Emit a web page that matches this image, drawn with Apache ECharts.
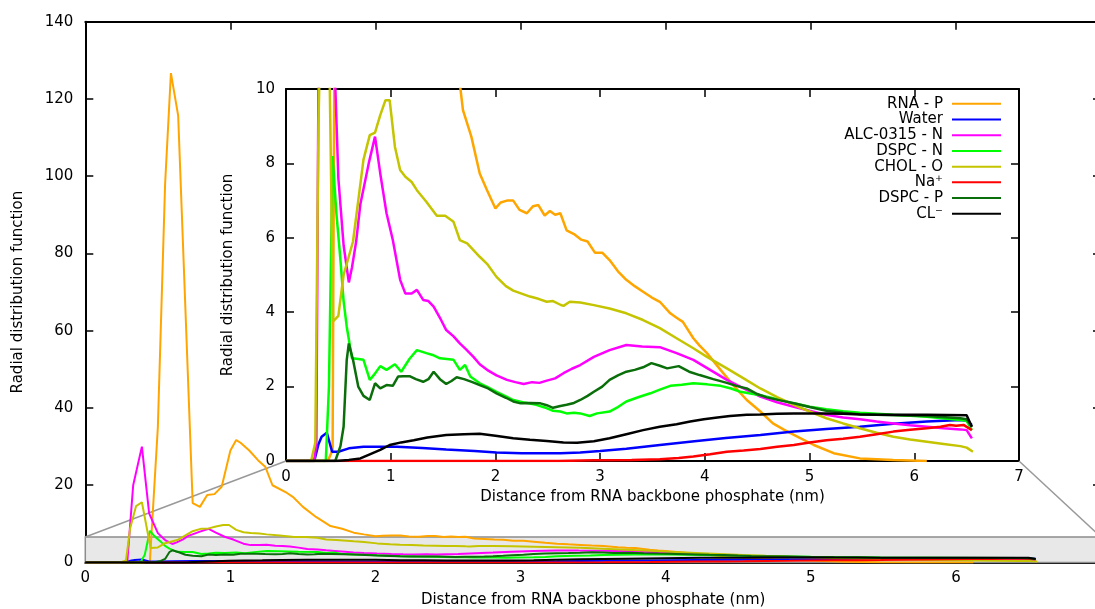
<!DOCTYPE html>
<html>
<head>
<meta charset="utf-8">
<script src="https://cdn.jsdelivr.net/npm/echarts@6/dist/echarts.min.js"></script>
<style>
  html, body { margin: 0; padding: 0; background: #fff; }
  #chart { width: 1095px; height: 609px; }
</style>
</head>
<body>
<div id="chart"></div>
<script>
// Radial distribution functions around the RNA backbone phosphate, [distance (nm), g(r)]
const seriesNames = ['RNA - P', 'Water', 'ALC-0315 - N', 'DSPC - N', 'CHOL - O', 'Na\u207A', 'DSPC - P', 'CL\u207B'];
const seriesColors = ['#ffa500', '#0000ff', '#ff00ff', '#00ff00', '#c4c400', '#ff0000', '#0a6e0a', '#000000'];

const rnaP = [[0,0],[0.40,0],[0.445,0.3],[0.50,35],[0.55,98],[0.59,126.7],[0.64,115.7],[0.74,15.4],[0.79,14.4],[0.84,17.5],[0.89,17.7],[0.94,19.6],[1.0,29],[1.04,31.7],[1.07,31],[1.13,29],[1.19,26.5],[1.24,24.8],[1.29,20],[1.39,18],[1.43,17],[1.5,14.4],[1.59,11.8],[1.69,9.43],[1.77,8.72],[1.85,7.73],[1.92,7.28],[2.0,6.79],[2.05,6.95],[2.11,7.0],[2.17,7.0],[2.23,6.75],[2.3,6.66],[2.36,6.85],[2.41,6.88],[2.47,6.6],[2.52,6.72],[2.57,6.62],[2.62,6.66],[2.68,6.2],[2.75,6.1],[2.82,5.95],[2.88,5.9],[2.95,5.6],[3.02,5.6],[3.09,5.4],[3.17,5.1],[3.25,4.87],[3.33,4.7],[3.41,4.55],[3.49,4.4],[3.57,4.28],[3.67,3.97],[3.73,3.85],[3.79,3.74],[3.89,3.3],[3.95,3.1],[4.02,2.9],[4.15,2.45],[4.27,2.04],[4.4,1.64],[4.53,1.33],[4.65,1.01],[4.75,0.85],[4.85,0.7],[5.04,0.43],[5.23,0.21],[5.48,0.07],[5.8,0.03],[6.12,0]];

const water = [[0,0],[0.27,0],[0.31,0.45],[0.34,0.65],[0.39,0.76],[0.44,0.25],[0.5,0.25],[0.6,0.34],[0.74,0.38],[1.06,0.38],[1.3,0.35],[1.53,0.31],[1.8,0.27],[2.01,0.23],[2.25,0.21],[2.49,0.21],[2.62,0.21],[2.81,0.23],[3.0,0.27],[3.25,0.33],[3.57,0.43],[3.9,0.53],[4.2,0.62],[4.53,0.7],[4.85,0.79],[5.16,0.86],[5.48,0.92],[5.8,1.0],[6.12,1.06],[6.44,1.1],[6.5,1.08],[6.55,0.97]];

const alcN = [[0,0],[0.27,0],[0.29,0.5],[0.33,20],[0.39,30],[0.44,12.7],[0.5,7.6],[0.55,5.8],[0.6,4.8],[0.63,5.2],[0.67,5.9],[0.71,6.9],[0.79,8.0],[0.85,8.72],[0.9,7.73],[0.96,6.66],[1.02,5.94],[1.09,4.87],[1.14,4.5],[1.2,4.5],[1.25,4.6],[1.31,4.33],[1.36,4.3],[1.41,4.15],[1.47,3.85],[1.53,3.52],[1.6,3.35],[1.66,3.16],[1.72,3.0],[1.79,2.8],[1.85,2.6],[1.92,2.45],[2.01,2.3],[2.11,2.18],[2.19,2.12],[2.27,2.07],[2.35,2.12],[2.42,2.1],[2.49,2.16],[2.57,2.22],[2.65,2.36],[2.73,2.48],[2.81,2.58],[2.94,2.8],[3.09,2.98],[3.25,3.12],[3.4,3.08],[3.57,3.06],[3.73,2.9],[3.89,2.72],[4.05,2.45],[4.21,2.18],[4.37,1.95],[4.53,1.73],[4.69,1.58],[4.85,1.46],[5.0,1.35],[5.16,1.24],[5.32,1.17],[5.48,1.12],[5.64,1.06],[5.8,1.01],[5.96,0.96],[6.12,0.92],[6.28,0.88],[6.44,0.85],[6.5,0.83],[6.55,0.61]];

const dspcN = [[0,0],[0.38,0],[0.41,2],[0.445,8.2],[0.48,6.7],[0.52,5.4],[0.55,4.3],[0.58,3.61],[0.63,2.76],[0.69,2.74],[0.74,2.72],[0.8,2.18],[0.85,2.35],[0.9,2.55],[0.96,2.45],[1.04,2.6],[1.1,2.4],[1.18,2.75],[1.25,2.98],[1.34,2.9],[1.4,2.85],[1.47,2.76],[1.6,2.72],[1.66,2.45],[1.71,2.58],[1.76,2.27],[1.85,2.09],[1.93,1.98],[2.01,1.86],[2.1,1.74],[2.17,1.64],[2.28,1.57],[2.39,1.51],[2.47,1.44],[2.55,1.35],[2.62,1.33],[2.68,1.28],[2.75,1.3],[2.81,1.28],[2.9,1.21],[2.97,1.28],[3.09,1.33],[3.17,1.45],[3.25,1.6],[3.37,1.72],[3.48,1.82],[3.57,1.92],[3.67,2.02],[3.78,2.05],[3.89,2.09],[4.02,2.06],[4.15,2.02],[4.25,1.95],[4.34,1.86],[4.53,1.77],[4.69,1.66],[4.85,1.55],[5.0,1.46],[5.16,1.39],[5.32,1.34],[5.48,1.3],[5.8,1.24],[6.12,1.19],[6.44,1.1],[6.5,1.08],[6.55,0.83]];

const cholO = [[0,0],[0.24,0],[0.28,0.5],[0.31,9],[0.35,14.6],[0.39,15.6],[0.45,3.75],[0.5,3.9],[0.55,5.0],[0.64,5.9],[0.69,7],[0.74,8.1],[0.8,8.76],[0.85,8.83],[0.9,9.3],[0.95,9.7],[0.99,9.7],[1.04,8.45],[1.09,7.82],[1.14,7.64],[1.2,7.5],[1.25,7.28],[1.34,6.97],[1.44,6.59],[1.52,6.59],[1.6,6.43],[1.66,5.94],[1.73,5.85],[1.85,5.49],[1.92,5.3],[2.01,4.95],[2.1,4.7],[2.17,4.58],[2.25,4.5],[2.33,4.42],[2.41,4.36],[2.49,4.28],[2.55,4.3],[2.62,4.2],[2.65,4.17],[2.71,4.28],[2.81,4.26],[2.94,4.19],[3.09,4.1],[3.25,3.97],[3.41,3.79],[3.57,3.57],[3.73,3.3],[3.89,3.03],[4.02,2.8],[4.21,2.49],[4.37,2.22],[4.53,1.95],[4.69,1.72],[4.85,1.51],[5.0,1.33],[5.16,1.15],[5.32,1.01],[5.48,0.88],[5.64,0.76],[5.8,0.65],[5.96,0.58],[6.12,0.52],[6.28,0.46],[6.44,0.4],[6.5,0.36],[6.56,0.25]];

const sodium = [[0,0],[2.6,0],[2.94,0.02],[3.3,0.03],[3.57,0.05],[3.75,0.08],[3.89,0.12],[4.05,0.18],[4.21,0.25],[4.37,0.28],[4.53,0.32],[4.69,0.38],[4.85,0.43],[5.0,0.5],[5.16,0.56],[5.32,0.6],[5.48,0.65],[5.64,0.72],[5.8,0.79],[5.96,0.84],[6.12,0.88],[6.25,0.92],[6.34,0.97],[6.4,0.95],[6.47,0.97],[6.55,0.83]];

const dspcP = [[0,0],[0.47,0],[0.52,0.4],[0.55,0.92],[0.58,2.72],[0.6,3.16],[0.64,2.72],[0.69,2.0],[0.74,1.75],[0.8,1.64],[0.85,2.09],[0.9,1.95],[0.96,2.04],[1.02,2.02],[1.07,2.27],[1.12,2.28],[1.18,2.28],[1.24,2.2],[1.31,2.13],[1.36,2.2],[1.41,2.4],[1.47,2.2],[1.53,2.07],[1.58,2.15],[1.63,2.25],[1.7,2.2],[1.78,2.12],[1.85,2.04],[1.93,1.95],[2.01,1.82],[2.1,1.7],[2.17,1.6],[2.24,1.55],[2.33,1.56],[2.43,1.55],[2.49,1.5],[2.55,1.43],[2.62,1.48],[2.68,1.51],[2.75,1.56],[2.81,1.64],[2.88,1.75],[2.94,1.86],[3.02,2.0],[3.09,2.18],[3.17,2.3],[3.25,2.4],[3.33,2.45],[3.41,2.52],[3.49,2.63],[3.57,2.56],[3.64,2.49],[3.75,2.55],[3.85,2.4],[3.95,2.31],[4.08,2.2],[4.21,2.1],[4.3,2.02],[4.4,1.95],[4.5,1.8],[4.59,1.71],[4.72,1.63],[4.85,1.55],[5.0,1.45],[5.16,1.35],[5.32,1.3],[5.48,1.26],[5.64,1.24],[5.8,1.23],[6.12,1.21],[6.44,1.15],[6.5,1.12],[6.55,0.92]];

const chloride = [[0,0],[0.48,0],[0.6,0.03],[0.71,0.07],[0.8,0.18],[0.9,0.3],[0.99,0.43],[1.1,0.5],[1.22,0.56],[1.35,0.63],[1.53,0.7],[1.7,0.72],[1.85,0.73],[2.0,0.68],[2.17,0.61],[2.33,0.57],[2.49,0.54],[2.65,0.5],[2.78,0.49],[2.94,0.53],[3.09,0.61],[3.25,0.72],[3.41,0.83],[3.57,0.92],[3.73,0.99],[3.86,1.06],[3.99,1.12],[4.12,1.17],[4.24,1.21],[4.4,1.24],[4.53,1.25],[4.69,1.27],[4.85,1.28],[5.0,1.28],[5.16,1.28],[5.32,1.27],[5.48,1.25],[5.8,1.24],[6.12,1.24],[6.5,1.23],[6.55,0.92]];

const seriesData = [rnaP, water, alcN, dspcN, cholO, sodium, dspcP, chloride];

// Axis ranges
const xRange = [0, 7];
const mainYRange = [0, 140];
const insetYRange = [0, 10];
const zoomBoxTop = 6.6;   // height of the shaded zoom strip in the full-range panel

const FONT = 'DejaVu Sans';
const textBase = { color: '#000', fontSize: 15, fontFamily: FONT };
const xTitle = 'Distance from RNA backbone phosphate (nm)';
const yTitle = 'Radial distribution function';

function axis(gridIndex, range, interval, position, labelMargin, name, nameGap) {
  const showLabel = labelMargin !== null;
  const a = {
    type: 'value', gridIndex, min: range[0], max: range[1], interval, position,
    axisLine: { show: true, onZero: false, lineStyle: { color: '#000', width: 2 } },
    axisTick: { show: true, inside: true, length: 8, lineStyle: { color: '#000', width: 1.5 } },
    axisLabel: showLabel ? Object.assign({ show: true, margin: labelMargin }, textBase) : { show: false },
    splitLine: { show: false }
  };
  if (name) {
    a.name = name;
    a.nameLocation = 'middle';
    a.nameGap = nameGap;
    a.nameTextStyle = Object.assign({}, textBase);
  }
  return a;
}

const xAxes = [
  axis(0, xRange, 1, 'bottom', 8, xTitle, 30.5),
  axis(0, xRange, 1, 'top', null),
  axis(1, xRange, 1, 'bottom', 8.5, xTitle, 28.5),
  axis(1, xRange, 1, 'top', null)
];
const yAxes = [
  axis(0, mainYRange, 20, 'left', 12, yTitle, 59.5),
  axis(0, mainYRange, 20, 'right', null),
  axis(1, insetYRange, 2, 'left', 11, yTitle, 50.5),
  axis(1, insetYRange, 2, 'right', null)
];

const series = [];
[0, 1].forEach(function (panel) {
  seriesData.forEach(function (data, i) {
    series.push({
      type: 'line',
      name: seriesNames[i],
      xAxisIndex: panel * 2,
      yAxisIndex: panel * 2,
      data: data,
      symbol: 'none',
      showSymbol: false,
      clip: true,
      animation: false,
      lineStyle: { color: seriesColors[i], width: panel === 0 ? 2 : 2.5 },
      itemStyle: { color: seriesColors[i] }
    });
  });
});

// Shaded strip in the full-range panel marking the magnified region
series[0].markArea = {
  silent: true,
  itemStyle: { color: '#e8e8e8', borderColor: '#8c8c8c', borderWidth: 1.5 },
  data: [[{ xAxis: xRange[0], yAxis: 0 }, { xAxis: xRange[1], yAxis: zoomBoxTop }]]
};

const chart = echarts.init(document.getElementById('chart'), null, { renderer: 'canvas' });
chart.setOption({
  backgroundColor: '#fff',
  animation: false,
  grid: [
    { left: 85.3, top: 21.7, width: 1015.7, height: 540.8, outerBoundsMode: 'none', containLabel: false },
    { left: 286, top: 89, width: 733, height: 372, outerBoundsMode: 'none', containLabel: false,
      show: true, backgroundColor: '#fff', borderWidth: 0 }
  ],
  xAxis: xAxes,
  yAxis: yAxes,
  legend: {
    orient: 'vertical', right: 94, top: 96, align: 'right', padding: 0,
    icon: 'rect', itemWidth: 49, itemHeight: 2, itemGap: 0,
    selectedMode: false,
    textStyle: Object.assign({ lineHeight: 15.7, padding: [0, 4, 0, 0] }, textBase),
    data: seriesNames
  },
  series: series
});

// Connector lines from the shaded strip to the magnified panel's lower corners
const pMainL = chart.convertToPixel({ xAxisIndex: 0, yAxisIndex: 0 }, [xRange[0], zoomBoxTop]);
const pMainR = chart.convertToPixel({ xAxisIndex: 0, yAxisIndex: 0 }, [xRange[1], zoomBoxTop]);
const pInsetL = chart.convertToPixel({ xAxisIndex: 2, yAxisIndex: 2 }, [xRange[0], insetYRange[0]]);
const pInsetR = chart.convertToPixel({ xAxisIndex: 2, yAxisIndex: 2 }, [xRange[1], insetYRange[0]]);
chart.setOption({
  graphic: [
    { type: 'line', silent: true, z: 1,
      shape: { x1: pMainL[0], y1: pMainL[1], x2: pInsetL[0], y2: pInsetL[1] },
      style: { stroke: '#999', lineWidth: 1.5 } },
    { type: 'line', silent: true, z: 1,
      shape: { x1: pMainR[0], y1: pMainR[1], x2: pInsetR[0], y2: pInsetR[1] },
      style: { stroke: '#999', lineWidth: 1.5 } }
  ]
});
</script>
</body>
</html>
